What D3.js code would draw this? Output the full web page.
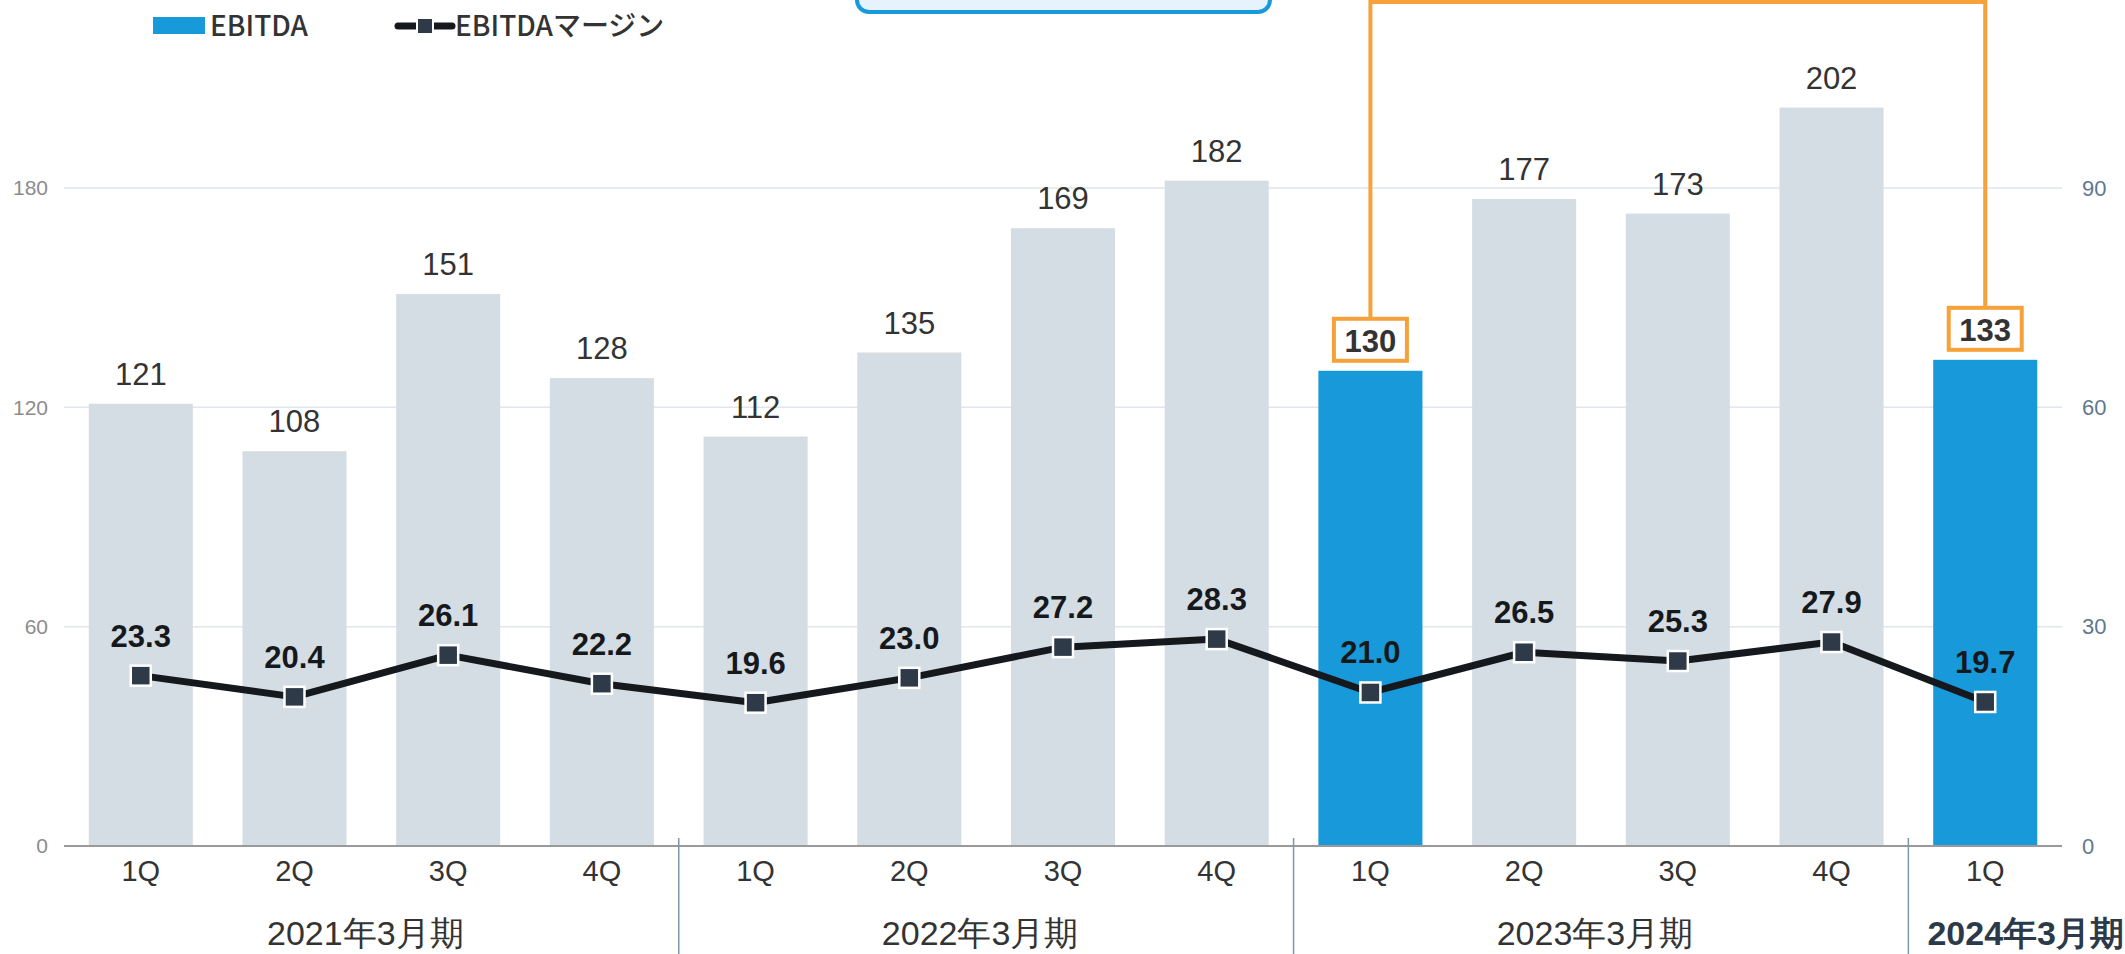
<!DOCTYPE html>
<html lang="ja">
<head>
  <meta charset="UTF-8" />
  <title>EBITDA / EBITDAマージン</title>
  <script src="https://d3js.org/d3.v7.min.js"></script>
  <style>
    body {
      margin: 0;
      background: #fff;
      overflow: hidden;
    }
    .num { font-family: "Liberation Sans", Arial, sans-serif; }
    .narrow { font-family: "Liberation Sans Narrow", "Liberation Sans", Arial, sans-serif; }
    .jp { font-family: "Noto Sans CJK JP", "Noto Sans", sans-serif; }
  </style>
</head>
<body>
  <script>
    // Data
    const quarters = ["1Q", "2Q", "3Q", "4Q", "1Q", "2Q", "3Q", "4Q", "1Q", "2Q", "3Q", "4Q", "1Q"];
    const ebitda = [121, 108, 151, 128, 112, 135, 169, 182, 130, 177, 173, 202, 133];
    const margin = [23.3, 20.4, 26.1, 22.2, 19.6, 23.0, 27.2, 28.3, 21.0, 26.5, 25.3, 27.9, 19.7];
    const highlighted = [8, 12]; // bars drawn in blue and boxed
    const fiscalYears = ["2021年3月期", "2022年3月期", "2023年3月期", "2024年3月期"];
    const fiscalSpans = [4, 4, 4, 1];
    const leftTicks = [0, 60, 120, 180];
    const rightTicks = [0, 30, 60, 90];

    const width = 2125, height = 954;
    const plot = { left: 64, right: 2062, top: 188, bottom: 846 };

    const svg = d3.select("body").append("svg")
      .attr("width", width)
      .attr("height", height);

    const idx = d3.range(ebitda.length);
    const x = d3.scaleBand().domain(idx).range([plot.left, plot.right]).paddingInner(0.323).paddingOuter(0.161);
    const yL = d3.scaleLinear().domain([0, 180]).range([plot.bottom, plot.top]);
    const yR = d3.scaleLinear().domain([0, 90]).range([plot.bottom, plot.top]);
    const cx = i => x(i) + x.bandwidth() / 2;

    // grid lines
    svg.append("g")
      .selectAll("line")
      .data(leftTicks.filter(d => d > 0))
      .join("line")
      .attr("x1", plot.left).attr("x2", plot.right)
      .attr("y1", d => yL(d)).attr("y2", d => yL(d))
      .attr("stroke", "#e1e6ec")
      .attr("stroke-width", 1.5);

    // left axis
    const axL = svg.append("g")
      .attr("transform", `translate(${plot.left - 16},0)`)
      .call(d3.axisLeft(yL).tickValues(leftTicks).tickSize(0).tickPadding(0));
    axL.select(".domain").remove();
    axL.selectAll("text")
      .attr("class", "num")
      .attr("fill", "#8c8c8c")
      .style("font-size", "21px");

    // right axis
    const axR = svg.append("g")
      .attr("transform", `translate(${plot.right + 20},0)`)
      .call(d3.axisRight(yR).tickValues(rightTicks).tickSize(0).tickPadding(0));
    axR.select(".domain").remove();
    axR.selectAll("text")
      .attr("class", "num")
      .attr("fill", "#5f7891")
      .style("font-size", "22px");

    // bars
    svg.append("g")
      .selectAll("rect")
      .data(idx)
      .join("rect")
      .attr("x", i => x(i))
      .attr("width", x.bandwidth())
      .attr("y", i => yL(ebitda[i]))
      .attr("height", i => yL(0) - yL(ebitda[i]))
      .attr("fill", i => highlighted.includes(i) ? "#1899d9" : "#d5dde4");

    // baseline
    svg.append("line")
      .attr("x1", plot.left).attr("x2", plot.right)
      .attr("y1", plot.bottom).attr("y2", plot.bottom)
      .attr("stroke", "#9a9a9a")
      .attr("stroke-width", 2);

    // top callout box (cut off by the top edge)
    svg.append("rect")
      .attr("x", 857).attr("y", -40)
      .attr("width", 413).attr("height", 52)
      .attr("rx", 12)
      .attr("fill", "#e7f3fc")
      .attr("stroke", "#1899d9")
      .attr("stroke-width", 4);

    // orange bracket linking the highlighted bars
    const boxW = 73, boxH = 42;
    const boxY = i => yL(ebitda[i]) - 31 - boxH / 2;
    svg.append("path")
      .attr("d", `M${cx(highlighted[0])},${boxY(highlighted[0])}V2H${cx(highlighted[1])}V${boxY(highlighted[1])}`)
      .attr("fill", "none")
      .attr("stroke", "#f7a13b")
      .attr("stroke-width", 4);

    svg.append("g")
      .selectAll("rect")
      .data(highlighted)
      .join("rect")
      .attr("x", i => cx(i) - boxW / 2)
      .attr("y", i => boxY(i))
      .attr("width", boxW)
      .attr("height", boxH)
      .attr("fill", "#fff")
      .attr("stroke", "#f7a13b")
      .attr("stroke-width", 4);

    // bar value labels
    svg.append("g")
      .selectAll("text")
      .data(idx)
      .join("text")
      .attr("class", "num")
      .attr("x", i => cx(i))
      .attr("y", i => yL(ebitda[i]) - 30)
      .attr("dy", "0.36em")
      .attr("text-anchor", "middle")
      .attr("fill", "#333")
      .style("font-size", "31px")
      .style("font-weight", i => highlighted.includes(i) ? "bold" : "normal")
      .text(i => ebitda[i]);

    // margin line
    const line = d3.line().x(i => cx(i)).y(i => yR(margin[i]));
    svg.append("path")
      .datum(idx)
      .attr("d", line)
      .attr("fill", "none")
      .attr("stroke", "#15191d")
      .attr("stroke-width", 7)
      .attr("stroke-linejoin", "round");

    const mk = 20;
    svg.append("g")
      .selectAll("rect")
      .data(idx)
      .join("rect")
      .attr("x", i => cx(i) - mk / 2)
      .attr("y", i => yR(margin[i]) - mk / 2)
      .attr("width", mk).attr("height", mk)
      .attr("fill", "#2e3a48")
      .attr("stroke", "#fff")
      .attr("stroke-width", 2.5);

    svg.append("g")
      .selectAll("text")
      .data(idx)
      .join("text")
      .attr("class", "num")
      .attr("x", i => cx(i))
      .attr("y", i => yR(margin[i]) - 29)
      .attr("text-anchor", "middle")
      .attr("fill", "#16191c")
      .style("font-size", "31px")
      .style("font-weight", "bold")
      .text(i => margin[i].toFixed(1));

    // quarter labels
    svg.append("g")
      .selectAll("text")
      .data(idx)
      .join("text")
      .attr("class", "narrow")
      .attr("x", i => cx(i))
      .attr("y", 881)
      .attr("text-anchor", "middle")
      .attr("fill", "#333")
      .style("font-size", "29px")
      .text(i => quarters[i]);

    // fiscal year groups: separators and labels
    let start = 0;
    const groups = fiscalYears.map((name, k) => {
      const g = { name, first: start, last: start + fiscalSpans[k] - 1, current: k === fiscalYears.length - 1 };
      start += fiscalSpans[k];
      return g;
    });
    const step = x.step();
    svg.append("g")
      .selectAll("line")
      .data(groups.slice(1))
      .join("line")
      .attr("x1", g => x(g.first) - step * x.paddingInner() / 2)
      .attr("x2", g => x(g.first) - step * x.paddingInner() / 2)
      .attr("y1", 838).attr("y2", height)
      .attr("stroke", "#8095aa")
      .attr("stroke-width", 1.5);

    svg.append("g")
      .selectAll("text")
      .data(groups)
      .join("text")
      .attr("class", "narrow")
      .attr("y", 945)
      .attr("fill", g => g.current ? "#2b3949" : "#333")
      .style("font-size", "34px")
      .style("font-weight", g => g.current ? "bold" : "normal")
      .text(g => g.name)
      .each(function(g) {
        const w = this.getComputedTextLength();
        const c = (cx(g.first) + cx(g.last)) / 2 - 6;
        // the current-year label sits against the right edge
        d3.select(this).attr("x", g.current ? width - w - 1 : c - w / 2);
      });

    // legend
    const lg = svg.append("g");
    lg.append("rect")
      .attr("x", 153).attr("y", 17)
      .attr("width", 52).attr("height", 17)
      .attr("fill", "#1899d9");
    lg.append("text")
      .attr("class", "jp")
      .attr("x", 210).attr("y", 26)
      .attr("dy", "0.36em")
      .attr("fill", "#333")
      .style("font-size", "28px")
      .style("font-weight", 500)
      .text("EBITDA");
    lg.append("line")
      .attr("x1", 398).attr("x2", 452)
      .attr("y1", 26).attr("y2", 26)
      .attr("stroke", "#15191d")
      .attr("stroke-width", 7)
      .attr("stroke-linecap", "round");
    lg.append("rect")
      .attr("x", 417).attr("y", 18)
      .attr("width", 16).attr("height", 16)
      .attr("fill", "#2e3a48")
      .attr("stroke", "#fff")
      .attr("stroke-width", 2);
    lg.append("text")
      .attr("class", "jp")
      .attr("x", 455).attr("y", 26)
      .attr("dy", "0.36em")
      .attr("fill", "#333")
      .style("font-size", "28px")
      .style("font-weight", 500)
      .text("EBITDAマージン");
  </script>
</body>
</html>
